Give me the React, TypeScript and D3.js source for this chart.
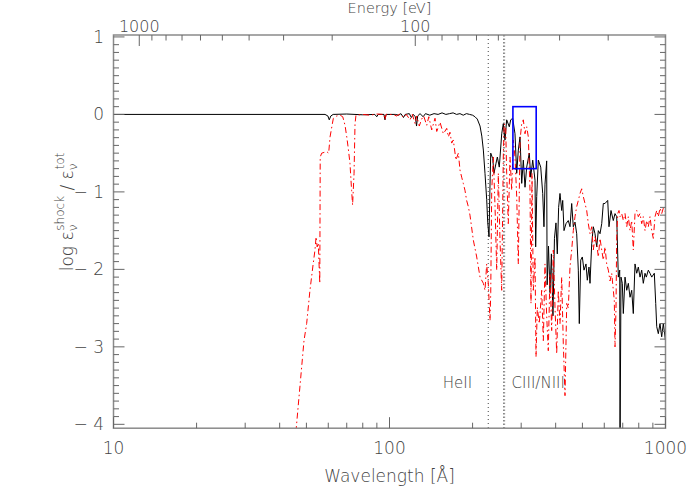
import React from "react";
import * as d3 from "d3";

// ---- data ----
const xMajorTicks = [10, 100, 1000];
const xMinorTicks = [20, 30, 40, 50, 60, 70, 80, 90, 200, 300, 400, 500, 600, 700, 800, 900];
const eMajorTicks = [1000, 100];
const eMinorTicks = [900, 800, 700, 600, 500, 400, 300, 200, 90, 80, 70, 60, 50, 40, 30, 20];
const yMajorTicks = [1, 0, -1, -2, -3, -4];
const edgeLines = [
  { lambda: 227.9, thin: true },
  { lambda: 258.9, thin: false },
  { lambda: 261.3, thin: false },
];
const edgeLabels = [
  { text: "HeII", lambda: 156 },
  { text: "CIII/NIII", lambda: 277 },
];
const boxLambda = [280, 340];
const boxValue = [-0.7, 0.1];

// solid black: [wavelength Å, log ratio]
const solidSeries: [number, number][] = [
  [10, 0], [56, 0], [58.4, 0], [59.8, -0.02], [60.5, -0.07], [61.3, -0.02], [62.5, 0], [70, 0.005], [80, -0.005],
  [88.5, 0], [89.9, -0.03], [91, 0], [95.5, 0], [96.3, -0.07], [97.2, 0], [105, 0], [108, -0.01], [110, 0.01],
  [112.4, -0.04], [114, 0], [118, 0.01], [120, -0.04], [122, 0], [124, -0.03], [125.3, -0.15], [126.5, -0.02],
  [129, 0.01], [132.4, -0.03], [135, 0.01], [140, -0.01], [145, 0.01], [150, 0], [155, 0.02], [160, 0], [165, 0.01],
  [170, 0.02], [175, 0], [180, 0.01], [185, -0.01], [190, 0.01], [195, 0], [200, -0.01], [204, -0.03], [208, -0.06],
  [212.8, -0.15], [216, -0.28], [218.8, -0.46], [221.8, -0.76], [225, -1.1], [227, -1.4], [229.4, -1.58], [231, -1.0],
  [232.7, -0.5], [236.6, -0.57], [239.1, -0.76], [243.2, -0.63], [245.9, -0.55], [249.9, -0.68], [255, -0.25],
  [258.4, -0.12], [262.1, -0.33], [265.8, -0.07], [271.7, -0.16], [274.9, -0.07], [279.5, -0.05], [284.9, -0.25],
  [289, -0.76], [292.9, -0.46], [297.1, -0.29], [301.3, -0.89], [305.4, -0.59], [309.7, -0.94], [314.1, -0.68],
  [321, -0.5], [324.8, -0.81], [330.3, -0.59], [336.7, -0.85], [338.5, -1.71], [341.5, -1.06], [346.1, -0.59],
  [353.1, -0.68], [359, -1.02], [362.8, -1.45], [365.9, -0.9], [371.1, -0.6], [372.5, -2.2], [376.7, -1.7],
  [381.5, -2.3], [386, -1.8], [391, -2.6], [396, -1.6], [401, -1.4], [405.5, -1.8], [410, -1.2], [414.7, -1.02],
  [420.6, -1.24], [424.2, -1.11], [428.8, -1.5], [436, -1.41], [444.4, -1.37], [450.8, -1.45], [457.2, -1.15],
  [463.4, -1.45], [470, -1.39], [476.7, -1.54], [483.2, -2.01], [487.2, -2.7], [493, -1.88], [499.6, -1.84],
  [506.6, -2.01], [515.2, -1.93], [520.8, -2.14], [528.2, -1.97], [532.7, -2.18], [540.3, -1.67], [547.6, -1.45],
  [555.4, -1.54], [563.3, -1.71], [571, -1.5], [579.1, -1.54], [587.4, -1.41], [595.2, -1.15], [603.7, -1.15],
  [617.5, -1.11], [624.1, -1.45], [634.7, -1.24], [647, -1.37], [656.2, -1.28], [665.6, -1.32], [674.6, -2.1],
  [682.5, -2.01], [684.2, -4.4], [689.9, -2.1], [697.5, -2.18], [703.4, -2.57], [713.4, -2.1], [723.6, -2.27],
  [733.4, -2.18], [743.8, -2.36], [754.4, -2.27], [764.5, -2.57], [775.4, -1.93], [786.5, -2.05], [797.1, -1.97],
  [808.5, -2.1], [820, -2.01], [831, -2.18], [842.9, -2.05], [852, -2.1], [866.4, -2.01], [878.8, -2.05],
  [891.4, -2.1], [911, -2.05], [921.7, -2.44], [929.4, -2.74], [941.8, -2.83], [955.2, -2.7], [968.8, -2.87],
  [981.9, -2.7], [1000, -2.92],
];

// dash-dot red: [wavelength Å, log ratio]
const dashSeries: [number, number][] = [
  [45.8, -4.1], [49.0, -2.92], [50.1, -2.7], [51.5, -2.27], [52.9, -1.93], [53.7, -1.75], [54.2, -1.58],
  [54.7, -1.71], [55.2, -1.66], [55.9, -2.18], [56.1, -0.55], [56.8, -0.5], [59.2, -0.48], [60.2, -0.5],
  [60.9, -0.29], [61.8, -0.16], [62.6, -0.05], [64.4, -0.02], [66.2, -0.01], [67.7, -0.03], [69, -0.14],
  [70, -0.29], [70.9, -0.44], [71.9, -0.63], [72.9, -0.98], [73.5, -1.17], [74.4, -0.76], [75, -0.12],
  [75.6, -0.01], [80, 0], [85, -0.01], [90, 0.005], [95.5, 0], [96.3, -0.07], [97.2, 0], [103, 0], [106, -0.02],
  [109, 0.005], [112.4, -0.04], [115, 0], [118.7, -0.07], [121, 0], [123.8, -0.12], [125.5, -0.02], [128.2, -0.15],
  [130.8, -0.06], [133, -0.02], [136.4, -0.14], [138.8, -0.03], [142.2, -0.2], [146.2, -0.05], [148.3, -0.22],
  [152.4, -0.1], [156.7, -0.25], [161.2, -0.18], [163.4, -0.29], [165.6, -0.23], [168, -0.37], [170.3, -0.33],
  [174.1, -0.59], [177.6, -0.5], [180.1, -0.72], [182.6, -0.81], [185.1, -0.89], [187.7, -0.98], [190.3, -1.11],
  [193, -1.19], [195.7, -1.3], [201.2, -1.62], [207, -1.84], [212.8, -2.1], [218.8, -2.18], [221.8, -2.27],
  [225, -1.93], [228, -2.18], [231.3, -2.66], [232.7, -2.3], [234.6, -0.98], [237.8, -0.55], [241.2, -1.19],
  [244.6, -2.01], [247.9, -0.76], [251.4, -1.62], [255, -2.27], [258.4, -0.55], [260.3, -0.12], [263.6, -0.16],
  [265.8, -0.76], [269.4, -1.41], [273.3, -0.55], [277.2, -0.98], [280.9, -0.33], [284.9, -0.55], [289, -1.06],
  [292.9, -1.93], [297.1, -0.33], [301.3, -0.12], [305.4, -0.07], [309.7, -0.25], [314.1, -0.16], [318.4, -0.29],
  [322.9, -0.98], [325.6, -2.44], [328.3, -0.76], [331.9, -2.27], [336.7, -1.84], [339.5, -3.13], [343.2, -2.49],
  [348.9, -2.7], [356, -2.27], [360.9, -2.92], [365.9, -1.93], [371.1, -2.6], [376.1, -3.05], [381.5, -2.05],
  [386.9, -2.79], [392.2, -1.75], [397.8, -2.49], [403.5, -3.09], [408.9, -2.27], [414.7, -2.7], [420.6, -2.1],
  [426.3, -2.96], [432.4, -3.63], [438.6, -2.44], [444.4, -2.5], [450.8, -1.97], [457.2, -1.75], [463.4, -1.5],
  [470, -1.32], [476.7, -1.19], [483.2, -1.11], [490.1, -1.02], [497.1, -0.96], [503.7, -1.06], [510.9, -1.15],
  [518.2, -1.24], [525.2, -1.41], [532.7, -1.54], [540.3, -1.45], [547.6, -1.75], [555.4, -1.58], [563.3, -1.67],
  [571, -1.84], [579.1, -1.6], [587.4, -1.75], [595.2, -1.88], [603.7, -1.71], [612.3, -1.93], [620.7, -2.01],
  [629.4, -2.15], [638.4, -2.05], [647, -2.27], [652.4, -2.4], [656.2, -3.0], [661.7, -2.5], [665.6, -1.58],
  [671.4, -1.28], [678.5, -1.24], [684.2, -1.32], [694, -1.28], [703.4, -1.37], [713.4, -1.28], [723.6, -1.45],
  [733.4, -1.32], [743.8, -1.5], [754.4, -1.37], [764.5, -1.75], [775.4, -1.28], [786.5, -1.24], [797.1, -1.32],
  [808.5, -1.28], [820, -1.41], [831, -1.32], [842.9, -1.5], [855, -1.37], [866.4, -1.45], [878.8, -1.32],
  [891.4, -1.5], [903.4, -1.6], [916.3, -1.32], [929.4, -1.24], [941.8, -1.32], [955.2, -1.21], [968.8, -1.28],
  [981.9, -1.21], [1000, -1.26],
];

const HC = 12398.4; // eV·Å

export default function App() {
  const W = 700, H = 500;
  const left = 113.5, right = 665.5, top = 35, bottom = 428.2;
  const x = d3.scaleLog().domain([10, 1000]).range([left, right]);
  const y = d3.scaleLinear().domain([-4.05, 1.025]).range([bottom, top]);
  const xE = (e: number) => x(HC / e);

  const line = d3.line<[number, number]>().x((d) => x(d[0])).y((d) => y(d[1]));
  const yMinor = d3.range(-40, 11).map((v) => v / 10).filter((v) => Math.abs(v - Math.round(v)) > 1e-6 && v > -4.05);

  const font = "'DejaVu Sans', sans-serif";
  const txt = "#444";
  const tickC = "#666";
  const majL = 11, minL = 5.5;

  return (
    <svg width={W} height={H} style={{ position: "absolute", left: 0, top: 0, background: "#fff" }}
      fontFamily={font} fontWeight={200}>
      <defs>
        <clipPath id="plotclip">
          <rect x={left} y={top} width={right - left} height={bottom - top} />
        </clipPath>
      </defs>
      <rect x={0} y={0} width={W} height={H} fill="#fff" />

      {/* edge lines */}
      {edgeLines.map((e, i) => (
        <line key={i} x1={x(e.lambda)} x2={x(e.lambda)} y1={top} y2={bottom}
          stroke={e.thin ? "#444" : "#888"} strokeWidth={1} strokeDasharray={e.thin ? "1,3" : "1.5,2"} />
      ))}

      <g clipPath="url(#plotclip)">
        <path d={line(solidSeries) || ""} fill="none" stroke="#000" strokeWidth={1} />
        <path d={line(dashSeries) || ""} fill="none" stroke="#ff0000" strokeWidth={1} strokeDasharray="6,3,1.5,3" />
      </g>

      {/* blue box */}
      <rect x={x(boxLambda[0])} y={y(boxValue[1])} width={x(boxLambda[1]) - x(boxLambda[0])}
        height={y(boxValue[0]) - y(boxValue[1])} fill="none" stroke="#0000ff" strokeWidth={1.6} />

      {/* edge labels */}
      {edgeLabels.map((l, i) => (
        <text key={i} x={x(l.lambda)} y={388} fontSize={15} fill={txt}>{l.text}</text>
      ))}

      {/* frame */}
      <rect x={left} y={top} width={right - left} height={bottom - top} fill="none" stroke="#8a8a8a" strokeWidth={1.5} />

      {/* bottom ticks */}
      {xMajorTicks.map((t) => (
        <g key={"xM" + t}>
          <line x1={x(t)} x2={x(t)} y1={bottom} y2={bottom - majL} stroke={tickC} />
          <text x={x(t)} y={454} fontSize={17} fill={txt} textAnchor="middle">{t}</text>
        </g>
      ))}
      {xMinorTicks.map((t) => (
        <line key={"xm" + t} x1={x(t)} x2={x(t)} y1={bottom} y2={bottom - minL} stroke={tickC} />
      ))}

      {/* top energy ticks */}
      {eMajorTicks.map((t) => (
        <g key={"eM" + t}>
          <line x1={xE(t)} x2={xE(t)} y1={top} y2={top + majL} stroke={tickC} />
          <text x={xE(t)} y={31.5} fontSize={16} fill={txt} textAnchor="middle">{t}</text>
        </g>
      ))}
      {eMinorTicks.map((t) => (
        <line key={"em" + t} x1={xE(t)} x2={xE(t)} y1={top} y2={top + minL} stroke={tickC} />
      ))}

      {/* y ticks */}
      {yMajorTicks.map((t) => (
        <g key={"yM" + t}>
          <line x1={left} x2={left + majL} y1={y(t)} y2={y(t)} stroke={tickC} />
          <line x1={right} x2={right - majL} y1={y(t)} y2={y(t)} stroke={tickC} />
          <text x={104} y={y(t) + 6} fontSize={17} fill={txt} textAnchor="end">
            {t < 0 ? "\u2212 " + Math.abs(t) : String(t)}
          </text>
        </g>
      ))}
      {yMinor.map((t) => (
        <g key={"ym" + t}>
          <line x1={left} x2={left + minL} y1={y(t)} y2={y(t)} stroke={tickC} />
          <line x1={right} x2={right - minL} y1={y(t)} y2={y(t)} stroke={tickC} />
        </g>
      ))}

      {/* titles */}
      <text x={(left + right) / 2} y={13} fontSize={14.5} fill={txt} textAnchor="middle">Energy [eV]</text>
      <text x={(left + right) / 2} y={482} fontSize={17} fill={txt} textAnchor="middle">Wavelength [Å]</text>
      <text transform="translate(73,212) rotate(-90)" textAnchor="middle" fontSize={17} fill={txt}>
        log ε<tspan dy={4} fontSize={12}>ν</tspan>
        <tspan dx={-6} dy={-13} fontSize={12}>shock</tspan>
        <tspan dy={9} fontSize={17}>{"  /  ε"}</tspan>
        <tspan dy={4} fontSize={12}>ν</tspan>
        <tspan dx={-6} dy={-13} fontSize={12}>tot</tspan>
      </text>
    </svg>
  );
}
